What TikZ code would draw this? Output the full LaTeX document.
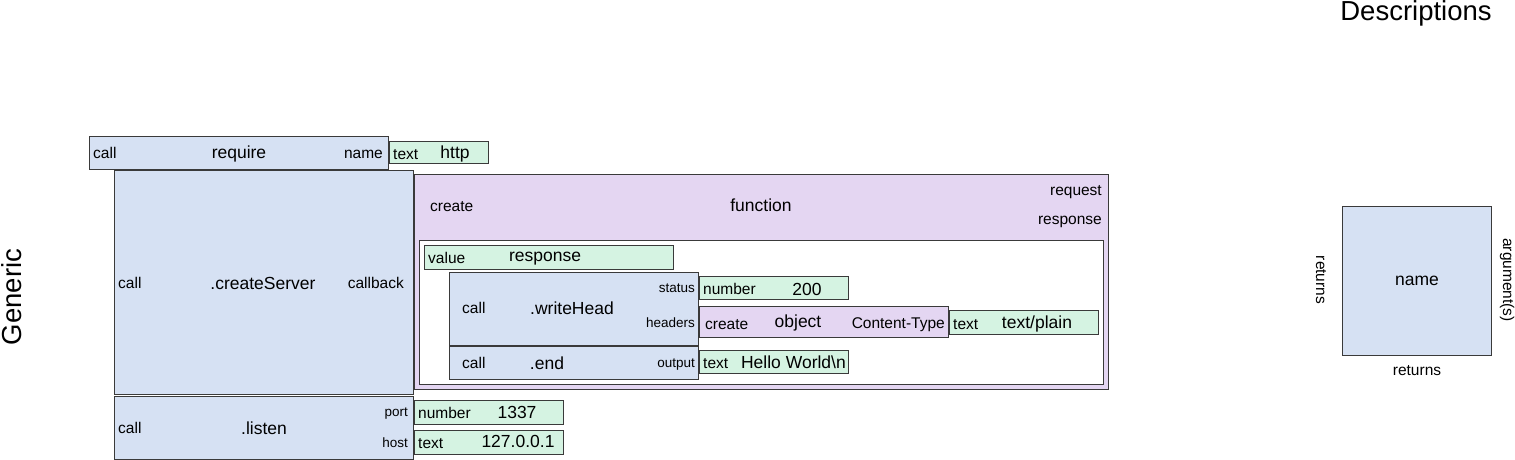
\documentclass[tikz,border=0pt]{standalone}
\usepackage{fontspec}
\setmainfont{Liberation Sans}
\usepackage{xcolor}
\usetikzlibrary{positioning}

\definecolor{callblue}{HTML}{D6E1F3}
\definecolor{litgreen}{HTML}{D5F3E2}
\definecolor{makepurple}{HTML}{E4D6F2}
\definecolor{edgegray}{HTML}{3A3A3A}

\tikzset{
    blk/.style 2 args={draw=edgegray, line width=1pt, anchor=north west, inner sep=0pt,
        minimum width=#1pt, minimum height=#2pt},
    callbox/.style={fill=callblue},
    litbox/.style={fill=litgreen},
    makebox/.style={fill=makepurple},
    bodybox/.style={fill=white},
    tiny/.style={inner sep=0pt, font=\fontsize{13.5}{15}\selectfont},
    small/.style={inner sep=0pt, font=\fontsize{15.5}{18}\selectfont},
    big/.style={inner sep=0pt, font=\fontsize{17.5}{20}\selectfont},
    huge/.style={inner sep=0pt, font=\fontsize{27.5}{30}\selectfont},
}

\begin{document}
\begin{tikzpicture}[x=1pt, y=-1pt]
    \useasboundingbox (0,0) rectangle (1515,460);

    % headings
    \node[huge] (desc) at (1416,13) {Descriptions};
    \node[huge, rotate=90] (generic) at (12,297) {Generic};

    % require
    \node[blk={299}{33}, callbox] (require) at (89,136) {};
    \node[small, anchor=base west] at (93,158) {call};
    \node[big, anchor=base] at (239,158) {require};
    \node[small, anchor=base east] at (383,158) {name};
    \node[blk={99}{22}, litbox] (http) at (389,141) {};
    \node[small, anchor=base west] at (393,159) {text};
    \node[big, anchor=base] at (455,158) {http};

    % createServer
    \node[blk={299}{224}, callbox] (server) at (114,170) {};
    \node[small, anchor=base west] at (118,288) {call};
    \node[big, anchor=base] at (263,289) {.createServer};
    \node[small, anchor=base east] at (404,288) {callback};

    % callback function
    \node[blk={694}{215}, makebox] (func) at (414,174) {};
    \node[small, anchor=base west] at (430,211) {create};
    \node[big, anchor=base] at (761,211) {function};
    \node[small, anchor=base east] at (1102,195) {request};
    \node[small, anchor=base east] at (1102,224) {response};
    \node[blk={684}{144}, bodybox] (body) at (419,240) {};

    \node[blk={249}{24}, litbox] (resp) at (424,245) {};
    \node[small, anchor=base west] at (428,263) {value};
    \node[big, anchor=base] at (545,261) {response};

    % writeHead
    \node[blk={249}{73}, callbox] (head) at (449,272) {};
    \node[small, anchor=base west] at (462,313) {call};
    \node[big, anchor=base] at (572,314) {.writeHead};
    \node[tiny, anchor=base east] at (695,292) {status};
    \node[tiny, anchor=base east] at (695,327) {headers};
    \node[blk={149}{23}, litbox] (status) at (699,276) {};
    \node[small, anchor=base west] at (703,294) {number};
    \node[big, anchor=base] at (807,295) {200};
    \node[blk={249}{31}, makebox] (headers) at (699,306) {};
    \node[small, anchor=base west] at (705,329) {create};
    \node[big, anchor=base] at (798,327) {object};
    \node[small, anchor=base east] at (945,328) {Content-Type};
    \node[blk={149}{24}, litbox] (ctype) at (949,310) {};
    \node[small, anchor=base west] at (953,329) {text};
    \node[big, anchor=base] at (1037,328) {text/plain};

    % end
    \node[blk={249}{33}, callbox] (end) at (449,346) {};
    \node[small, anchor=base west] at (462,368) {call};
    \node[big, anchor=base] at (547,369) {.end};
    \node[tiny, anchor=base east] at (695,367) {output};
    \node[blk={149}{23}, litbox] (hello) at (699,350) {};
    \node[small, anchor=base west] at (703,368) {text};
    \node[big, anchor=base east] at (846,368) {Hello World\textbackslash n};

    % listen
    \node[blk={299}{63}, callbox] (listen) at (114,396) {};
    \node[small, anchor=base west] at (118,433) {call};
    \node[big, anchor=base] at (264,434) {.listen};
    \node[tiny, anchor=base east] at (408,416) {port};
    \node[tiny, anchor=base east] at (408,447) {host};
    \node[blk={149}{24}, litbox] (port) at (414,400) {};
    \node[small, anchor=base west] at (418,418) {number};
    \node[big, anchor=base] at (517,418) {1337};
    \node[blk={149}{24}, litbox] (host) at (414,430) {};
    \node[small, anchor=base west] at (418,448) {text};
    \node[big, anchor=base] at (518,447) {127.0.0.1};

    % legend
    \node[blk={149}{149}, callbox] (legend) at (1342,206) {};
    \node[big] at (legend.center) {name};
    \node[small, rotate=-90] at (1321,280) {returns};
    \node[small, rotate=-90] at (1507,280) {argument(s)};
    \node[small, below=9pt of legend] {returns};
\end{tikzpicture}
\end{document}
